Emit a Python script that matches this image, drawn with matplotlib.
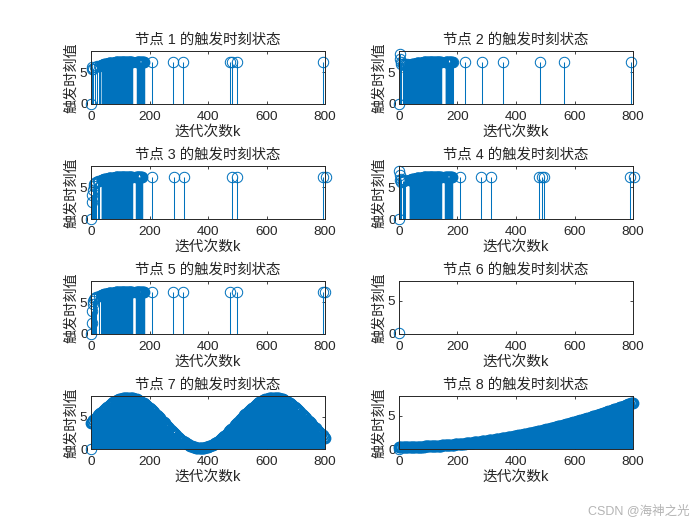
import numpy as np
import matplotlib
matplotlib.use("Agg")
import matplotlib.pyplot as plt

plt.rcParams['font.family'] = ['Liberation Sans', 'Noto Sans CJK SC', 'DejaVu Sans']
plt.rcParams['axes.unicode_minus'] = False

BLUE = '#0072BD'
DARK = '#262626'

# Dense block of triggers shared by nodes 1-5 (iteration k, value)
dense_k = [36, 39, 42, 45, 48, 51, 54, 57, 60, 63, 66, 69, 72, 75, 78, 81, 84, 87, 90, 93, 96, 99,
           102, 105, 108, 111, 114, 117, 120, 123, 126, 129, 132, 135, 138, 141, 144,
           147, 150, 153, 156, 159, 162, 165, 168, 171, 174, 177, 180]
dense_v = [6.15, 6.2, 6.25, 6.28, 6.32, 6.35, 6.38, 6.4, 6.42, 6.45, 6.47, 6.5, 6.52, 6.54, 6.55,
           6.56, 6.58, 6.6, 6.6, 6.62, 6.62, 6.62, 6.63, 6.63, 6.63, 6.63, 6.63, 6.63, 6.63, 6.63,
           6.63, 6.63, 6.62, 6.62, 6.62, 6.62, 6.62, 6.62, 6.61, 6.61, 6.61, 6.6, 6.6, 6.6, 6.6,
           6.6, 6.6, 6.58, 6.58]

# Sparse triggers per node
node1_k = [0, 2, 4, 6, 12, 20, 29, 32, 207, 281, 316, 476, 482, 498, 794]
node1_v = [0.0, 5.6, 5.85, 5.5, 5.9, 6.0, 6.05, 6.1, 6.6, 6.6, 6.6, 6.6, 6.6, 6.6, 6.6]
node2_k = [0, 3, 5, 6, 8, 12, 16, 20, 24, 28, 31, 35, 176, 185, 225, 285, 357, 482, 565, 792]
node2_v = [0.0, 8.0, 7.2, 6.4, 6.7, 6.3, 6.2, 6.3, 6.2, 6.3, 6.2, 6.2, 6.6, 6.6, 6.6, 6.6, 6.6, 6.6, 6.6, 6.6]
node3_k = [0, 3, 5, 7, 9, 11, 14, 18, 25, 29, 207, 283, 318, 482, 498, 794, 802]
node3_v = [0.0, 2.7, 3.8, 4.6, 5.2, 5.5, 5.7, 5.9, 6.0, 6.1, 6.6, 6.6, 6.6, 6.6, 6.6, 6.6, 6.6]
node4_k = [0, 1, 3, 5, 6, 8, 12, 16, 20, 207, 281, 316, 480, 490, 497, 789, 803]
node4_v = [0.0, 7.6, 6.9, 6.2, 5.9, 6.4, 6.0, 6.1, 6.2, 6.6, 6.6, 6.6, 6.6, 6.6, 6.6, 6.6, 6.6]
node5_k = [0, 2, 4, 6, 8, 10, 14, 18, 29, 35, 207, 281, 316, 476, 498, 794, 800]
node5_v = [0.0, 1.7, 3.7, 4.7, 5.2, 5.5, 5.7, 5.9, 6.05, 6.1, 6.6, 6.6, 6.6, 6.6, 6.6, 6.6, 6.6]
node6_k = [0]
node6_v = [0.2]

# Gaps in the shared dense block for nodes 1-5
node1_gaps = [(142, 154)]
node2_gaps = [(145, 157)]
node3_gaps = [(142, 153), (174, 181)]
node4_gaps = [(146, 156), (160, 164), (168, 171)]
node5_gaps = [(142, 153), (168, 171)]

# Node 7 and 8: stems at every 4th iteration
node7_v = [4.05, 4.25, 4.44, 4.64, 4.83, 5.02, 5.21, 5.39, 5.58, 5.75, 5.93, 6.10, 6.26, 6.42, 6.57, 6.72,
           6.86, 6.99, 7.12, 7.23, 7.34, 7.44, 7.54, 7.62, 7.69, 7.76, 7.81, 7.86, 7.90, 7.93, 7.94, 7.95,
           7.95, 7.93, 7.91, 7.88, 7.84, 7.79, 7.73, 7.66, 7.58, 7.49, 7.39, 7.29, 7.18, 7.05, 6.93, 6.79,
           6.65, 6.50, 6.34, 6.18, 6.01, 5.84, 5.67, 5.49, 5.30, 5.11, 4.92, 4.73, 4.54, 4.34, 4.15, 3.95,
           3.76, 3.56, 3.37, 3.18, 2.99, 2.80, 2.61, 2.43, 2.26, 2.09, 1.92, 1.76, 1.60, 1.45, 1.31, 1.17,
           1.05, 0.92, 0.81, 0.71, 0.61, 0.52, 0.44, 0.37, 0.31, 0.26, 0.22, 0.19, 0.17, 0.15, 0.15, 0.16,
           0.17, 0.20, 0.24, 0.29, 0.34, 0.41, 0.48, 0.56, 0.66, 0.76, 0.87, 0.98, 1.11, 1.24, 1.38, 1.53,
           1.68, 1.84, 2.00, 2.17, 2.35, 2.52, 2.71, 2.89, 3.08, 3.27, 3.46, 3.66, 3.85, 4.05,
           4.25, 4.44, 4.64, 4.83, 5.02, 5.21, 5.39, 5.58, 5.75, 5.93, 6.10, 6.26, 6.42, 6.57, 6.72,
           6.86, 6.99, 7.12, 7.23, 7.34, 7.44, 7.54, 7.62, 7.69, 7.76, 7.81, 7.86, 7.90, 7.93, 7.94, 7.95,
           7.95, 7.93, 7.91, 7.88, 7.84, 7.79, 7.73, 7.66, 7.58, 7.49, 7.39, 7.29, 7.18, 7.05, 6.93, 6.79,
           6.65, 6.50, 6.34, 6.18, 6.01, 5.84, 5.67, 5.49, 5.30, 5.11, 4.92, 4.73, 4.54, 4.34, 4.15, 3.95,
           3.76, 3.56, 3.37, 3.18, 2.99, 2.80, 2.61, 2.43, 2.26, 2.09, 1.92, 1.76]
node8_v = [.30, .30, .30, .30, .30, .30, .31, .31, .31, .31, .32, .32, .32, .33, .33, .34, .34, .35, .35, .36,
           .37, .37, .38, .39, .40, .40, .41, .42, .43, .44, .45, .46, .47, .48, .49, .51, .52, .53, .54, .55,
           .57, .58, .60, .61, .62, .64, .65, .67, .69, .70, .72, .74, .75, .77, .79, .81, .83, .84, .86, .88,
           .90, .92, .94, .96, .99, 1.01, 1.03, 1.05, 1.07, 1.10, 1.12, 1.14, 1.17, 1.19, 1.22, 1.24, 1.27,
           1.29, 1.32, 1.35, 1.37, 1.40, 1.43, 1.45, 1.48, 1.51, 1.54, 1.57, 1.60, 1.63, 1.66, 1.69, 1.72,
           1.75, 1.78, 1.81, 1.84, 1.88, 1.91, 1.94, 1.98, 2.01, 2.04, 2.08, 2.11, 2.15, 2.18, 2.22, 2.25,
           2.29, 2.33, 2.36, 2.40, 2.44, 2.48, 2.52, 2.55, 2.59, 2.63, 2.67, 2.71, 2.75, 2.79, 2.83, 2.88,
           2.92, 2.96, 3.00, 3.04, 3.09, 3.13, 3.17, 3.22, 3.26, 3.31, 3.35, 3.40, 3.44, 3.49, 3.54, 3.58,
           3.63, 3.68, 3.73, 3.77, 3.82, 3.87, 3.92, 3.97, 4.02, 4.07, 4.12, 4.17, 4.22, 4.27, 4.32, 4.38,
           4.43, 4.48, 4.53, 4.59, 4.64, 4.70, 4.75, 4.81, 4.86, 4.92, 4.97, 5.03, 5.08, 5.14, 5.20, 5.26,
           5.31, 5.37, 5.43, 5.49, 5.55, 5.61, 5.67, 5.73, 5.79, 5.85, 5.91, 5.97, 6.03, 6.09, 6.16, 6.22,
           6.28, 6.35, 6.41, 6.47, 6.54, 6.60, 6.67, 6.73, 6.80, 6.87, 6.93, 7.00]

node_ylim = [8.4, 8.4, 8.4, 8.4, 8.4, 8.0, 8.2, 8.0]
xticks = [0, 200, 400, 600, 800]
yticks = [0, 5]


def dense_part(gaps):
    pairs = [(a, b) for a, b in zip(dense_k, dense_v) if not any(lo < a < hi for lo, hi in gaps)]
    return [p[0] for p in pairs], [p[1] for p in pairs]


def every_fourth(v):
    return [4 * i for i in range(len(v))], list(v)


sparse = [(node1_k, node1_v), (node2_k, node2_v), (node3_k, node3_v), (node4_k, node4_v),
          (node5_k, node5_v), (node6_k, node6_v), ([0], [0.0]), ([0], [0.0])]
solid = [dense_part(node1_gaps), dense_part(node2_gaps), dense_part(node3_gaps),
         dense_part(node4_gaps), dense_part(node5_gaps), ([], []),
         every_fourth(node7_v), every_fourth(node8_v)]

W, H = 700, 525
fig = plt.figure(figsize=(W / 100, H / 100), dpi=100, facecolor='white')

lefts = [91, 399]
width = 234
tops = [51, 166, 281, 396]
height = 53

for i in range(8):
    row, col = i // 2, i % 2
    ax = fig.add_axes([lefts[col] / W, 1 - (tops[row] + height) / H, width / W, height / H])
    ks, vs = sparse[i]
    ax.vlines(ks, 0, vs, color=BLUE, lw=0.75, zorder=2)
    ax.plot(ks, vs, linestyle='none', marker='o', ms=7.5, mfc='none', mec=BLUE, mew=0.72,
            clip_on=False, zorder=3)
    ks, vs = solid[i]
    if ks:
        ax.vlines(ks, 0, vs, color=BLUE, lw=1.5 if i >= 6 else 1.05, zorder=2)
        ax.plot(ks, vs, linestyle='none', marker='o', ms=7.1, mfc='none', mec=BLUE, mew=1.4,
                clip_on=False, zorder=3)
    ax.set_xlim(0, 800)
    ax.set_ylim(0, node_ylim[i])
    ax.set_xticks(xticks)
    ax.set_yticks(yticks)
    ax.tick_params(direction='in', length=2.2, width=0.6, colors=DARK, labelsize=9.7,
                   top=True, right=True)
    ax.tick_params(axis='x', pad=5)
    ax.tick_params(axis='y', pad=2.5)
    for s in ax.spines.values():
        s.set_linewidth(0.7)
        s.set_color(DARK)
        s.set_zorder(5)
    ax.set_title(f'节点 {i + 1} 的触发时刻状态', fontsize=10.4, color=DARK, pad=5)
    ax.set_xlabel('迭代次数k', fontsize=10.6, color=DARK, labelpad=1.5)
    ax.set_ylabel('触发时刻值', fontsize=10.2, color=DARK, labelpad=1.2)

fig.text(690 / W, 1 - 511 / H, 'CSDN @海神之光', fontsize=9, color='#b4b4b4', ha='right', va='center')

fig.savefig('out.png', dpi=100)
